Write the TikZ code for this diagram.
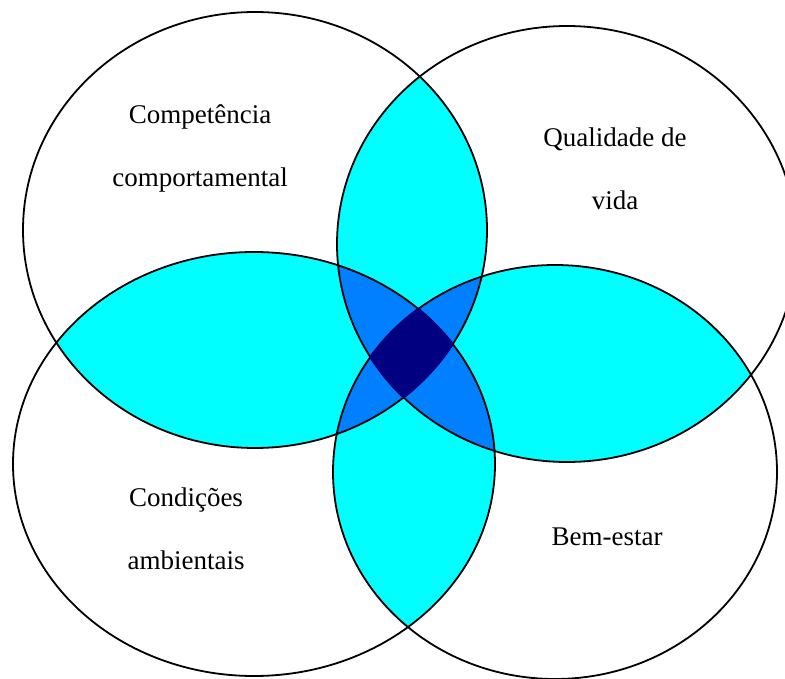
\documentclass[tikz,border=0pt]{standalone}
\usepackage{fontspec}
\setmainfont{Liberation Serif}
\definecolor{lens}{RGB}{0,255,255}
\definecolor{petal}{RGB}{0,128,255}
\definecolor{core}{RGB}{0,0,128}
% the four rings, #1 = extra radius
\newcommand{\ringTL}[1]{(255,230) ellipse [x radius=232+#1, y radius=218+#1]}
\newcommand{\ringTR}[1]{(567,244) ellipse [x radius=230+#1, y radius=218+#1]}
\newcommand{\ringBL}[1]{(254,464) ellipse [x radius=241+#1, y radius=212+#1]}
\newcommand{\ringBR}[1]{(555,472) ellipse [x radius=222+#1, y radius=207+#1]}
\begin{document}
\begin{tikzpicture}
[x=1pt, y=-1pt,
ringline/.style={draw=black, line width=1.8pt}
]
\tikzset{ringtext/.style={font=\fontsize{27}{63}\selectfont, align=center, inner sep=0pt}}
\useasboundingbox (0,0) rectangle (785,679);
\fill[white] (0,0) rectangle (785,679);
% two rings
\begin{scope}
    \clip \ringTL{0};
    \fill[lens] \ringTR{0};
    \fill[lens] \ringBL{0};
\end{scope}
\begin{scope}
    \clip \ringBR{0};
    \fill[lens] \ringTR{0};
    \fill[lens] \ringBL{0};
\end{scope}
% three rings
\begin{scope}
    \clip \ringTL{0};
    \clip \ringTR{0};
    \fill[petal] \ringBL{0};
    \fill[petal] \ringBR{0};
\end{scope}
\begin{scope}
    \clip \ringBL{0};
    \clip \ringBR{0};
    \fill[petal] \ringTL{0};
    \fill[petal] \ringTR{0};
\end{scope}
\draw[ringline] \ringTL{0};
\draw[ringline] \ringTR{0};
\draw[ringline] \ringBL{0};
\draw[ringline] \ringBR{0};
% all four, covers the outlines
\begin{scope}
    \clip \ringTL{1};
    \clip \ringTR{1};
    \clip \ringBL{1};
    \fill[core] \ringBR{1};
\end{scope}
\node[ringtext] (comp) at (200,148) {Competência\\comportamental};
\node[ringtext] (vida) at (615,169) {Qualidade de\\vida};
\node[ringtext] (amb) at (186,529) {Condições\\ambientais};
\node[ringtext, anchor=base] (bem) at (607,545) {Bem-estar};
\end{tikzpicture}
\end{document}
